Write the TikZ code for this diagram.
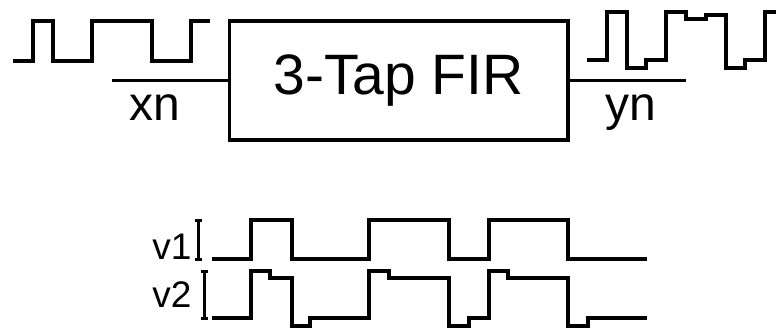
\documentclass[tikz,border=0pt]{standalone}
\usepackage{fontspec}
\setmainfont{Liberation Sans}
\begin{document}
\begin{tikzpicture}[x=1pt,y=-1pt,
  wave/.style={line width=3.5pt,line join=miter,line cap=butt},
  wire/.style={line width=3.5pt},
  firbox/.style={draw,line width=3.5pt,minimum width=338.5pt,minimum height=119pt,inner sep=0pt,
    font=\fontsize{57}{60}\selectfont},
  siglabel/.style={anchor=base,inner sep=0pt,font=\fontsize{48}{50}\selectfont},
  tracelabel/.style={anchor=base,inner sep=0pt,font=\fontsize{37}{40}\selectfont},
  ibar/.style={line width=3pt}]
\useasboundingbox (0,0) rectangle (776,329);

% filter block and its ports
\node[firbox] (fir) at (398.75,80.5) {3-Tap FIR};
\coordinate (in) at (112,80.5);
\coordinate (out) at (686,80.5);
\draw[wire] (in) -- (fir.west);
\draw[wire] (fir.east) -- (out);
\node[siglabel] (xn) at (155,120) {xn};
\node[siglabel] (yn) at (631,120) {yn};

% input square wave
\draw[wave] (13,61) -- (33,61) -- (33,21) -- (53,21) -- (53,61) -- (92,61) -- (92,21)
  -- (152,21) -- (152,61) -- (191,61) -- (191,21) -- (210,21);

% filtered output
\draw[wave] (587,60) -- (607,60) -- (607,12) -- (627,12) -- (627,68) -- (646,68) -- (646,60)
  -- (666,60) -- (666,12) -- (686,12) -- (686,19) -- (706,19) -- (706,15) -- (726,15)
  -- (726,68) -- (745,68) -- (745,60) -- (765,60) -- (765,12) -- (778,12);

% trace labels with amplitude bars
\node[tracelabel] (v1) at (172,259) {v1};
\node[tracelabel] (v2) at (172,307) {v2};
\draw[ibar] (198,220) -- (198,259) (194.5,220) -- (201.5,220) (194.5,259) -- (201.5,259);
\draw[ibar] (204,271) -- (204,318) (200.5,271) -- (207.5,271) (200.5,318) -- (207.5,318);

% trace v1
\draw[wave] (212,259) -- (251,259) -- (251,220) -- (292,220) -- (292,259) -- (369,259)
  -- (369,220) -- (449,220) -- (449,259) -- (489,259) -- (489,220) -- (568,220)
  -- (568,259) -- (647,259);

% trace v2
\draw[wave] (212,318) -- (251,318) -- (251,271) -- (270,271) -- (270,278) -- (292,278)
  -- (292,326) -- (310,326) -- (310,318) -- (369,318) -- (369,271) -- (389,271)
  -- (389,278) -- (449,278) -- (449,326) -- (469,326) -- (469,318) -- (489,318)
  -- (489,271) -- (508,271) -- (508,278) -- (568,278) -- (568,326) -- (588,326)
  -- (588,318) -- (647,318);
\end{tikzpicture}
\end{document}
